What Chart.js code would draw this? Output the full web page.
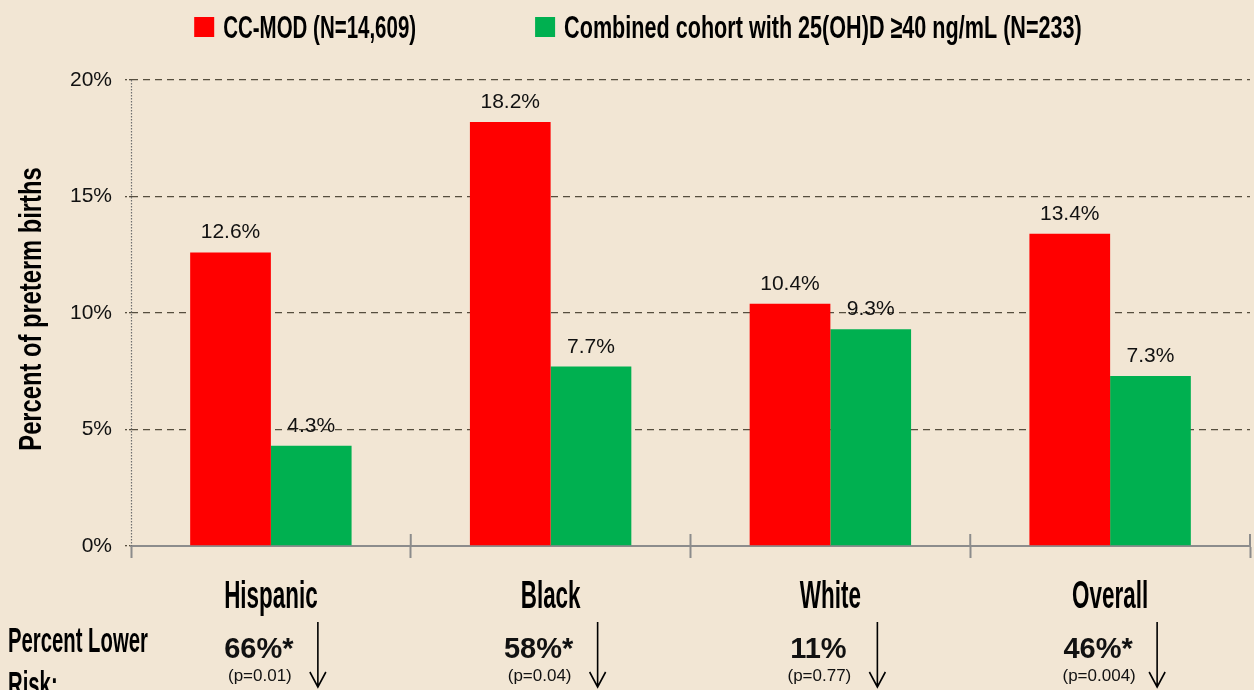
<!DOCTYPE html>
<html><head><meta charset="utf-8">
<script src="https://cdn.jsdelivr.net/npm/chart.js@4.4.1/dist/chart.umd.min.js"></script>
<style>
html,body{margin:0;padding:0;background:#F2E6D4;}
#wrap{width:1254px;height:690px;position:relative;overflow:hidden;}
</style>
</head><body><div id="wrap"><canvas id="c"></canvas></div>
<script>
const categories = ['Hispanic', 'Black', 'White', 'Overall'];
const ccmodValues = [12.6, 18.2, 10.4, 13.4];
const cohortValues = [4.3, 7.7, 9.3, 7.3];
const seriesLabels = ['CC-MOD (N=14,609)', 'Combined cohort with 25(OH)D \u226540 ng/mL (N=233)'];
const riskReduction = ['66%*', '58%*', '11%', '46%*'];
const pValues = ['(p=0.01)', '(p=0.04)', '(p=0.77)', '(p=0.004)'];
const riskLabel = ['Percent Lower', 'Risk:'];
const yTitle = 'Percent of preterm births';
const yMin = 0, yMax = 20, yStep = 5;

const ARIAL = "'Liberation Sans', Arial, sans-serif";
const RED = '#FF0000', GREEN = '#00B050';
const BG = '#F2E6D4';

// condensed-looking bold text: Arial bold squeezed horizontally
function condText(ctx, text, x, y, size, sx, align, rot) {
  ctx.save();
  ctx.font = 'bold ' + size + 'px ' + ARIAL;
  ctx.translate(x, y);
  if (rot) ctx.rotate(rot);
  ctx.scale(sx, 1);
  ctx.textAlign = align;
  ctx.textBaseline = 'alphabetic';
  ctx.fillText(text, 0, 0);
  ctx.restore();
}
function condWidth(ctx, text, size, sx) {
  ctx.save();
  ctx.font = 'bold ' + size + 'px ' + ARIAL;
  const w = ctx.measureText(text).width * sx;
  ctx.restore();
  return w;
}

const annot = {
  id: 'annot',
  beforeDraw(chart) {
    const {ctx, width, height} = chart;
    ctx.save();
    ctx.fillStyle = BG;
    ctx.fillRect(0, 0, width, height);
    ctx.restore();
  },
  afterDraw(chart) {
    const {ctx, chartArea: ca, scales: {x}} = chart;
    ctx.save();
    // dotted left axis line
    ctx.strokeStyle = '#6f6f6f';
    ctx.lineWidth = 1.2;
    ctx.setLineDash([1.5, 1.5]);
    ctx.beginPath();
    ctx.moveTo(ca.left + 0.5, ca.top);
    ctx.lineTo(ca.left + 0.5, ca.bottom);
    ctx.stroke();
    ctx.setLineDash([]);

    // category boundary ticks crossing above the axis
    const n = chart.data.labels.length;
    ctx.strokeStyle = '#8c8c8c';
    ctx.lineWidth = 2;
    for (let i = 1; i <= n; i++) {
      const bx = i < n ? (x.getPixelForValue(i - 1) + x.getPixelForValue(i)) / 2 : ca.right;
      ctx.beginPath();
      ctx.moveTo(bx, ca.bottom - 12);
      ctx.lineTo(bx, ca.bottom);
      ctx.stroke();
    }

    // value labels
    ctx.font = '21px ' + ARIAL;
    ctx.fillStyle = '#111';
    ctx.textAlign = 'center';
    ctx.textBaseline = 'alphabetic';
    chart.data.datasets.forEach((ds, di) => {
      chart.getDatasetMeta(di).data.forEach((bar, i) => {
        ctx.fillText(ds.data[i].toFixed(1) + '%', bar.x, bar.y - 14);
      });
    });

    // legend
    const lsz = 32, lsx = [0.64, 0.675];
    const boxW = 20, boxGap = 9, itemGap = 119;
    const ws = chart.data.datasets.map((ds, di) => condWidth(ctx, ds.label, lsz, lsx[di]));
    const total = ws.reduce((a, b) => a + b, 0) + 2 * (boxW + boxGap) + itemGap;
    let lx = chart.width / 2 + 11 - total / 2;
    chart.data.datasets.forEach((ds, di) => {
      ctx.fillStyle = ds.backgroundColor;
      ctx.fillRect(lx, 17, boxW, boxW);
      ctx.fillStyle = '#000';
      condText(ctx, ds.label, lx + boxW + boxGap, 38, lsz, lsx[di], 'left');
      lx += boxW + boxGap + ws[di] + itemGap;
    });

    // y axis title
    ctx.fillStyle = '#000';
    condText(ctx, yTitle, 41, (ca.top + ca.bottom) / 2 - 4, 31, 0.765, 'center', -Math.PI / 2);

    // category labels + bottom annotations
    chart.data.labels.forEach((c, i) => {
      const cx = x.getPixelForValue(i);
      ctx.fillStyle = '#000';
      condText(ctx, c, cx, 608, 38, 0.59, 'center');
      ctx.fillStyle = '#111';
      ctx.textAlign = 'center';
      ctx.font = 'bold 29px ' + ARIAL;
      ctx.fillText(riskReduction[i], cx - 12, 658);
      ctx.font = '17px ' + ARIAL;
      ctx.fillText(pValues[i], cx - 11, 681);
      // arrow
      const ax = cx + 47;
      ctx.strokeStyle = '#000';
      ctx.lineWidth = 1.6;
      ctx.beginPath();
      ctx.moveTo(ax, 622);
      ctx.lineTo(ax, 687);
      ctx.moveTo(ax - 8, 672);
      ctx.lineTo(ax, 687);
      ctx.lineTo(ax + 8, 672);
      ctx.stroke();
    });
    ctx.fillStyle = '#000';
    condText(ctx, riskLabel[0], 8, 652, 35, 0.58, 'left');
    condText(ctx, riskLabel[1], 8, 696, 35, 0.58, 'left');
    ctx.restore();
  }
};

new Chart(document.getElementById('c'), {
  type: 'bar',
  data: {
    labels: categories,
    datasets: [
      {label: seriesLabels[0], data: ccmodValues, backgroundColor: RED, borderWidth: 0},
      {label: seriesLabels[1], data: cohortValues, backgroundColor: GREEN, borderWidth: 0}
    ]
  },
  options: {
    responsive: true,
    maintainAspectRatio: false,
    animation: false,
    categoryPercentage: 0.577,
    barPercentage: 1.0,
    layout: {padding: {top: 80, right: 4, left: 0, bottom: 0}},
    plugins: {
      legend: {display: false},
      tooltip: {enabled: false}
    },
    scales: {
      x: {
        afterFit: s => { s.height = 144; },
        grid: {offset: true, drawOnChartArea: false, drawTicks: true, tickLength: 12, tickColor: '#8c8c8c', tickWidth: 2},
        border: {display: true, color: '#8c8c8c', width: 2},
        ticks: {display: false}
      },
      y: {
        min: yMin, max: yMax,
        afterFit: s => { s.width = 131; },
        ticks: {stepSize: yStep, padding: 13, color: '#111', font: {family: ARIAL, size: 21}, callback: v => v + '%'},
        grid: {
          color: ctx => ctx.tick && ctx.tick.value === 0 ? 'rgba(0,0,0,0)' : '#564e3e',
          lineWidth: 1.3,
          drawTicks: true, tickLength: 6, tickColor: '#564e3e', tickBorderDash: [2, 2],
          borderDash: [7, 5]
        },
        border: {display: false, dash: [7, 5]},
        title: {display: false}
      }
    }
  },
  plugins: [annot]
});
</script>
</body></html>
